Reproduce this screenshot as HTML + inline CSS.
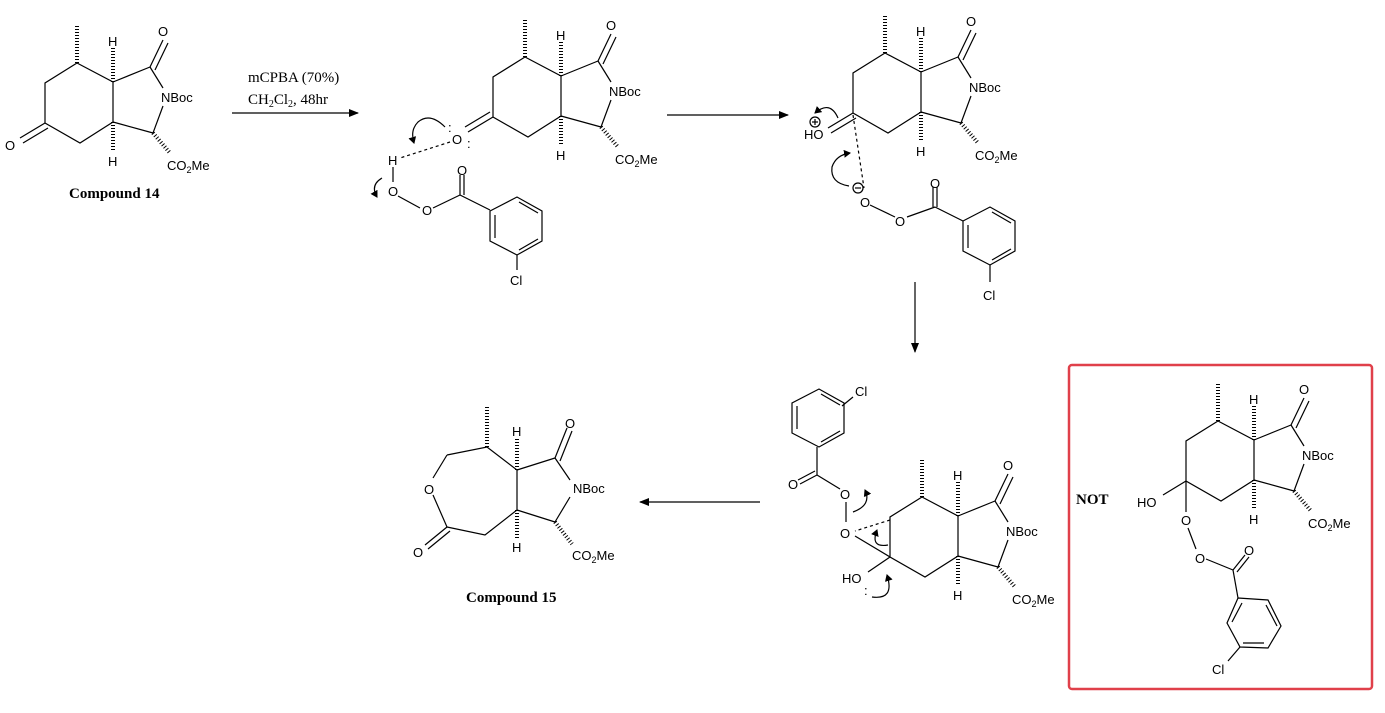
<!DOCTYPE html>
<html><head><meta charset="utf-8"><style>
html,body{margin:0;padding:0;background:#fff;}
svg{display:block;}
text{font-family:"Liberation Sans",sans-serif;font-size:13px;fill:#000;}
.s{font-family:"Liberation Serif",serif;font-size:15px;}
.b{font-family:"Liberation Serif",serif;font-size:15px;font-weight:bold;}
line,path,polyline,polygon,circle{stroke:#000;stroke-width:1.2;fill:none;}
.h{stroke-width:4;stroke-dasharray:1 2;}
.d{stroke-dasharray:3 3;}
</style></head><body>
<svg width="1385" height="713" viewBox="0 0 1385 713" xmlns="http://www.w3.org/2000/svg">
<defs>
<marker id="ah" markerWidth="10" markerHeight="8" refX="9" refY="4" orient="auto" markerUnits="userSpaceOnUse">
<path d="M0,0 L10,4 L0,8 Z" style="fill:#000;stroke:none"/></marker>
<marker id="ca" markerWidth="8" markerHeight="8" refX="6" refY="4" orient="auto" markerUnits="userSpaceOnUse">
<path d="M0,0 L7,4 L0,8 Z" style="fill:#000;stroke:none"/></marker>
<g id="bic">
<line class="h" x1="77" y1="63" x2="77" y2="25"/>
<polyline points="77,63 113,82 113,122 80,143 45,123 45,83 77,63"/>
<line x1="113" y1="82" x2="150" y2="67"/>
<line x1="150" y1="67" x2="163" y2="40"/><line x1="155" y1="70" x2="168" y2="43"/>
<line x1="150" y1="67" x2="163" y2="88"/>
<line x1="163" y1="106" x2="153" y2="133"/>
<line x1="153" y1="133" x2="113" y2="122"/>
<line class="h" x1="113" y1="82" x2="113" y2="48"/>
<line class="h" x1="113" y1="122" x2="113" y2="152"/>
<line class="h" x1="153" y1="133" x2="170" y2="153"/>
<text x="108" y="46">H</text>
<text x="108" y="166">H</text>
<text x="158" y="36">O</text>
<text x="161" y="102">NBoc</text>
<text x="167" y="170">CO<tspan font-size="9" dy="3">2</tspan><tspan dy="-3">Me</tspan></text>
</g>
<g id="ring">
<polygon points="0,0 27,-14 52,0 52,30 27,44 0,30"/>
<line x1="5" y1="27" x2="5" y2="4"/><line x1="29" y1="-9" x2="48" y2="2"/><line x1="48" y1="28" x2="29" y2="39"/>
</g>
</defs>

<!-- Compound 14 -->
<use href="#bic"/>
<line x1="45" y1="123" x2="20" y2="138"/><line x1="48" y1="128" x2="23" y2="143"/>
<text x="5" y="150">O</text>
<text class="b" x="69" y="198">Compound 14</text>

<!-- arrow 1 -->
<text class="s" x="248" y="82">mCPBA (70%)</text>
<text class="s" x="248" y="104">CH<tspan font-size="10" dy="3">2</tspan><tspan dy="-3">Cl</tspan><tspan font-size="10" dy="3">2</tspan><tspan dy="-3">, 48hr</tspan></text>
<line x1="232" y1="113" x2="358" y2="113" marker-end="url(#ah)"/>

<!-- Structure 2 -->
<use href="#bic" transform="translate(448,-6)"/>
<line x1="493" y1="117" x2="468" y2="132"/><line x1="490" y1="112" x2="465" y2="127"/>
<text x="452" y="144">O</text>
<text x="448" y="132" font-size="10">:</text><text x="467" y="148" font-size="10">:</text>
<line class="d" x1="450" y1="142" x2="400" y2="158"/>
<text x="388" y="165">H</text>
<line x1="393" y1="167" x2="393" y2="182"/>
<text x="388" y="196">O</text>
<line x1="398" y1="196" x2="420" y2="208"/>
<text x="422" y="215">O</text>
<line x1="433" y1="208" x2="460" y2="195"/>
<line x1="460" y1="195" x2="460" y2="175"/><line x1="464" y1="195" x2="464" y2="175"/>
<text x="457" y="175">O</text>
<line x1="460" y1="195" x2="490" y2="210"/>
<use href="#ring" transform="translate(490,211)"/>
<line x1="517" y1="255" x2="517" y2="270"/>
<text x="510" y="285">Cl</text>
<path d="M445,127 Q430,112 418,122 Q410,130 414,143" marker-end="url(#ca)"/>
<path d="M382,178 Q370,185 377,197" marker-end="url(#ca)"/>

<!-- arrow 2 -->
<line x1="667" y1="115" x2="788" y2="115" marker-end="url(#ah)"/>

<!-- Structure 3 -->
<use href="#bic" transform="translate(808,-10)"/>
<line x1="853" y1="113" x2="828" y2="128"/><line x1="856" y1="118" x2="831" y2="133"/>
<text x="804" y="139">HO</text>
<circle cx="815" cy="122" r="5"/><line x1="812" y1="122" x2="818" y2="122"/><line x1="815" y1="119" x2="815" y2="125"/>
<path d="M838,118 Q830,100 815,113" marker-end="url(#ca)"/>
<line class="d" x1="853" y1="115" x2="864" y2="188"/>
<circle cx="858" cy="188" r="5"/><line x1="855" y1="188" x2="861" y2="188"/>
<text x="860" y="207">O</text>
<line x1="870" y1="205" x2="895" y2="217"/>
<text x="895" y="226">O</text>
<line x1="907" y1="217" x2="935" y2="207"/>
<line x1="933" y1="207" x2="933" y2="187"/><line x1="937" y1="207" x2="937" y2="187"/>
<text x="930" y="188">O</text>
<line x1="935" y1="207" x2="963" y2="221"/>
<use href="#ring" transform="translate(963,221)"/>
<line x1="990" y1="265" x2="990" y2="282"/>
<text x="983" y="300">Cl</text>
<path d="M849,186 Q830,183 832,167 Q836,155 850,153" marker-end="url(#ca)"/>

<!-- arrow down -->
<line x1="915" y1="282" x2="915" y2="352" marker-end="url(#ah)"/>

<!-- Structure 4 -->
<use href="#bic" transform="translate(845,434)"/>
<line x1="890" y1="557" x2="855" y2="536"/>
<line class="d" x1="890" y1="520" x2="855" y2="531"/>
<text x="840" y="538">O</text>
<line x1="846" y1="522" x2="846" y2="502"/>
<text x="840" y="499">O</text>
<line x1="840" y1="489" x2="817" y2="475"/>
<line x1="817" y1="475" x2="800" y2="484"/><line x1="815" y1="471" x2="798" y2="480"/>
<text x="788" y="489">O</text>
<line x1="817" y1="475" x2="817" y2="447"/>
<use href="#ring" transform="translate(792,433) scale(1,-1)"/>
<line x1="842" y1="406" x2="853" y2="397"/>
<text x="855" y="396">Cl</text>
<line x1="890" y1="557" x2="868" y2="572"/>
<text x="842" y="583">HO</text>
<text x="864" y="595" font-size="10">:</text>
<path d="M853,512 Q872,505 865,490" marker-end="url(#ca)"/>
<path d="M888,545 Q870,548 877,530" marker-end="url(#ca)"/>
<path d="M872,597 Q895,600 887,575" marker-end="url(#ca)"/>

<!-- arrow left -->
<line x1="760" y1="502" x2="640" y2="502" marker-end="url(#ah)"/>

<!-- Compound 15 -->
<line class="h" x1="487" y1="447" x2="487" y2="405"/>
<polyline points="447,455 487,447 517,470 517,510 485,535 447,527"/>
<line x1="447" y1="455" x2="433" y2="478"/>
<text x="424" y="494">O</text>
<line x1="433" y1="495" x2="447" y2="527"/>
<line x1="447" y1="527" x2="425" y2="545"/><line x1="450" y1="531" x2="428" y2="549"/>
<text x="413" y="557">O</text>
<line x1="517" y1="470" x2="555" y2="458"/>
<line x1="555" y1="458" x2="567" y2="428"/><line x1="560" y1="461" x2="572" y2="431"/>
<text x="565" y="428">O</text>
<line x1="555" y1="458" x2="570" y2="480"/>
<text x="573" y="493">NBoc</text>
<line x1="570" y1="497" x2="555" y2="522"/>
<line x1="555" y1="522" x2="517" y2="510"/>
<line class="h" x1="517" y1="470" x2="517" y2="438"/>
<text x="512" y="436">H</text>
<line class="h" x1="517" y1="510" x2="517" y2="538"/>
<text x="512" y="552">H</text>
<line class="h" x1="555" y1="522" x2="572" y2="544"/>
<text x="572" y="560">CO<tspan font-size="9" dy="3">2</tspan><tspan dy="-3">Me</tspan></text>
<text class="b" x="466" y="602">Compound 15</text>

<!-- NOT box -->
<rect x="1069" y="365" width="303" height="324" rx="3" style="fill:none;stroke:#e0404a;stroke-width:2.5"/>
<text class="b" x="1076" y="504">NOT</text>
<use href="#bic" transform="translate(1141,358)"/>
<line x1="1186" y1="481" x2="1163" y2="495"/>
<text x="1137" y="507">HO</text>
<line x1="1186" y1="481" x2="1186" y2="512"/>
<text x="1181" y="525">O</text>
<line x1="1188" y1="528" x2="1196" y2="549"/>
<text x="1195" y="563">O</text>
<line x1="1206" y1="559" x2="1233" y2="570"/>
<line x1="1233" y1="570" x2="1245" y2="555"/><line x1="1237" y1="572" x2="1249" y2="557"/>
<text x="1244" y="555">O</text>
<line x1="1233" y1="570" x2="1238" y2="598"/>
<polygon points="1238,598 1268,600 1281,626 1268,648 1240,647 1227,623"/>
<line x1="1266" y1="605" x2="1277" y2="626"/><line x1="1264" y1="643" x2="1243" y2="643"/><line x1="1232" y1="622" x2="1242" y2="603"/>
<line x1="1240" y1="647" x2="1228" y2="661"/>
<text x="1212" y="674">Cl</text>
</svg>
</body></html>
